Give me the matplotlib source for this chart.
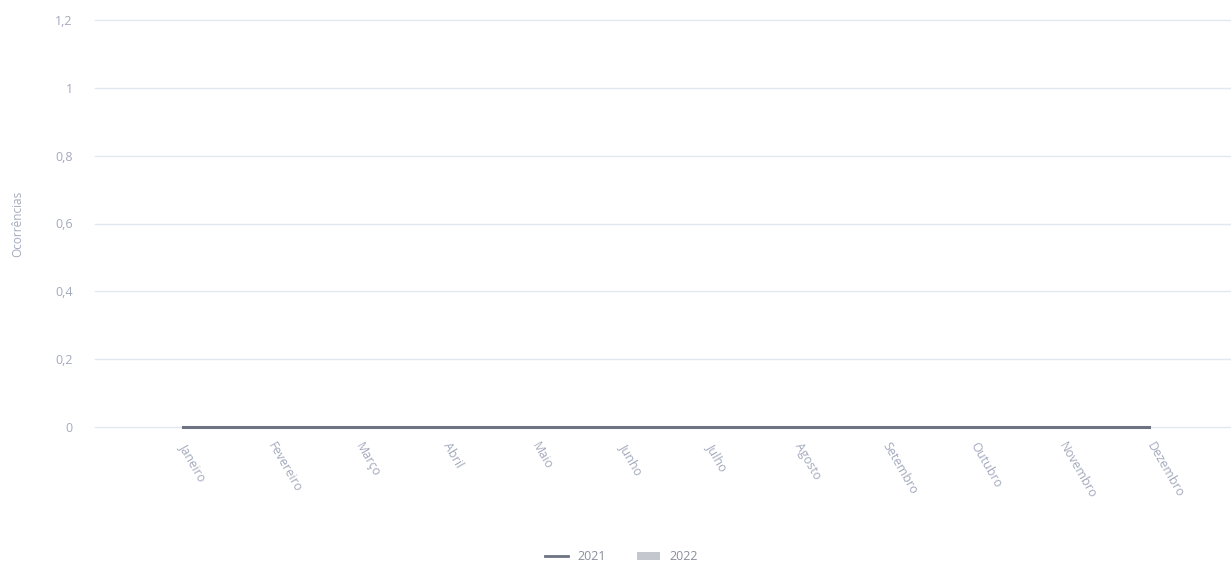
import numpy as np
import matplotlib.pyplot as plt
from matplotlib.patches import Patch
from matplotlib.lines import Line2D

plt.rcParams['font.family'] = ['Open Sans', 'DejaVu Sans']

meses = ['Janeiro', 'Fevereiro', 'Março', 'Abril', 'Maio', 'Junho',
         'Julho', 'Agosto', 'Setembro', 'Outubro', 'Novembro', 'Dezembro']
ocorr_2021 = [0, 0, 0, 0, 0, 0, 0, 0, 0, 0, 0, 0]
ocorr_2022 = [0, 0, 0, 0, 0, 0, 0, 0, 0, 0, 0, 0]
yticks = [0, 0.2, 0.4, 0.6, 0.8, 1.0, 1.2]
ytick_labels = ['0', '0,2', '0,4', '0,6', '0,8', '1', '1,2']

txt = '#a3aabd'
grid = '#e3e7f1'
c2021 = '#6e7383'
c2022 = '#c4c7ce'

fig = plt.figure(figsize=(12.31, 5.69), dpi=100)
ax = fig.add_axes([95 / 1231, 142 / 569, 1 - 95 / 1231, 407 / 569])

x = np.arange(len(meses))
ax.bar(x, ocorr_2022, width=0.6, color=c2022)
ax.plot(x, ocorr_2021, color=c2021, lw=2.2, clip_on=False, zorder=3)

ax.set_xlim(-1, 11.93)
ax.set_ylim(0, 1.2)
ax.set_yticks(yticks, ytick_labels)
ax.set_xticks(x, meses)
for lab in ax.get_xticklabels():
    lab.set_rotation(-60)
    lab.set_rotation_mode('anchor')
    lab.set_ha('left')
    lab.set_va('center')
ax.tick_params(axis='both', length=0, colors=txt, labelsize=9)
ax.tick_params(axis='y', pad=16)
ax.tick_params(axis='x', pad=12)
ax.grid(axis='y', color=grid, lw=1, clip_on=False)
ax.set_axisbelow(True)
for s in ax.spines.values():
    s.set_visible(False)

ax.set_ylabel('Ocorrências', color=txt, fontsize=8.5, labelpad=22)

handles = [Line2D([0], [0], color=c2021, lw=2),
           Patch(facecolor=c2022, edgecolor='none')]
fig.legend(handles, ['2021', '2022'], loc='lower center',
           bbox_to_anchor=(0.505, -0.01), ncol=2, frameon=False,
           fontsize=9, labelcolor='#8a8f9c', handlelength=1.8,
           columnspacing=2.5)

fig.savefig('out.png', dpi=100, facecolor='white')
